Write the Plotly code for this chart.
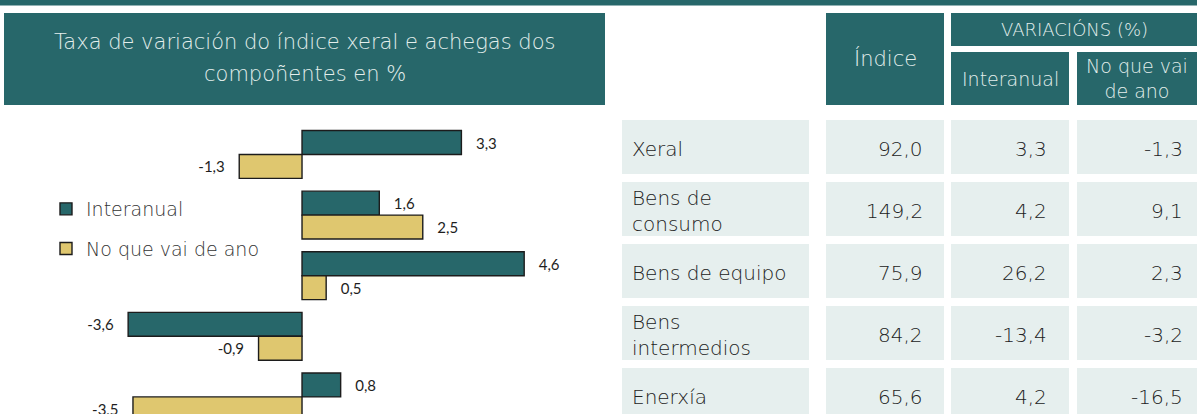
import plotly.graph_objects as go

# ---------------- data ----------------
categories = ["Xeral", "Bens de consumo", "Bens de equipo", "Bens intermedios", "Enerxía"]
series_names = ["Interanual", "No que vai de ano"]
contrib_interanual = [3.3, 1.6, 4.6, -3.6, 0.8]
contrib_ytd = [-1.3, 2.5, 0.5, -0.9, -3.5]

table_labels = ["Xeral", "Bens de<br>consumo", "Bens de equipo", "Bens<br>intermedios", "Enerxía"]
indice = [92.0, 149.2, 75.9, 84.2, 65.6]
var_interanual = [3.3, 4.2, 26.2, -13.4, 4.2]
var_ytd = [-1.3, 9.1, 2.3, -3.2, -16.5]

chart_title = ["Taxa de variación do índice xeral e achegas dos", "compoñentes en %"]
header_index = "Índice"
header_var = "VARIACIÓNS (%)"
header_cols = ["Interanual", "No que vai<br>de ano"]

# ---------------- style ----------------
W, H = 1197, 414
TEAL = "#27676A"
GOLD = "#DFC76F"
CELL = "#E6EFEE"
HEAD_TXT = "#E4EFED"
BODY_TXT = "#222222"
FONT = "DejaVu Sans"
WEIGHT = 300

def px(x):
    return x / W

def py(y):
    return 1 - y / H

def fmt(v):
    return f"{v:.1f}".replace(".", ",")

def bar_text(vals):
    pad = "\u00a0" * 3
    return [pad + fmt(v) if v >= 0 else fmt(v) + pad for v in vals]

fig = go.Figure()

# ---- bar chart ----
for name, vals, col in [(series_names[0], contrib_interanual, TEAL),
                        (series_names[1], contrib_ytd, GOLD)]:
    fig.add_trace(go.Bar(
        y=categories, x=vals, orientation="h", name=name,
        legendgroup=name,
        marker=dict(color=col, line=dict(color="#1c1c1c", width=1.4)),
        text=bar_text(vals), textposition="outside",
        textfont=dict(family="Lato", size=15, color="#1e1e1e"),
        cliponaxis=True, hoverinfo="skip",
        xaxis="x", yaxis="y",
    ))

# ---- table cells (bars in a table coordinate system) ----
col_left = [622, 826, 951, 1077]
col_right = [809, 944, 1069, 1205]
rows = list(range(len(categories)))
for c in range(4):
    fig.add_trace(go.Bar(
        y=rows, x=[col_right[c] - col_left[c]] * len(rows),
        base=[col_left[c]] * len(rows), orientation="h",
        width=0.87, offset=-0.435,
        marker=dict(color=CELL, line=dict(width=0)),
        showlegend=False, hoverinfo="skip",
        xaxis="x2", yaxis="y2",
    ))

annotations = []
num_right = [925, 1049, 1185]
for i in rows:
    annotations.append(dict(
        x=col_left[0] + 8, y=i + 0.03, xref="x2", yref="y2",
        text=table_labels[i], showarrow=False, xanchor="left", yanchor="middle",
        align="left", font=dict(family=FONT, size=20, color=BODY_TXT, weight=WEIGHT)))
    for c, vals in enumerate([indice, var_interanual, var_ytd]):
        annotations.append(dict(
            x=num_right[c], y=i + 0.03, xref="x2", yref="y2",
            text=fmt(vals[i]), showarrow=False, xanchor="right", yanchor="middle",
            font=dict(family=FONT, size=20, color=BODY_TXT, weight=WEIGHT)))

# ---- header boxes ----
shapes = []
def box(x0, x1, y0, y1):
    shapes.append(dict(type="rect", xref="paper", yref="paper",
                       x0=px(x0), x1=px(x1), y0=py(y1), y1=py(y0),
                       fillcolor=TEAL, line=dict(width=0), layer="below"))

box(0, W, 0, 5.5)
box(4, 605, 13, 105)
box(826, 944, 13, 105)
box(951, W, 13, 46)
box(951, 1069, 52, 105)
box(1077, W, 52, 105)

def head(x, y, text, size):
    annotations.append(dict(x=px(x), y=py(y), xref="paper", yref="paper",
                            text=text, showarrow=False, xanchor="center",
                            yanchor="middle",
                            font=dict(family=FONT, size=size, color=HEAD_TXT,
                                      weight=WEIGHT)))

head(304.5, 42, chart_title[0], 21)
head(304.5, 74, chart_title[1], 21)
head(885, 59, header_index, 21)
head(1074, 30, header_var, 18)
head(1010, 79, header_cols[0], 19)
head(1137, 79, header_cols[1], 19)

fig.update_layout(
    width=W, height=H,
    margin=dict(l=0, r=0, t=0, b=0, pad=0),
    paper_bgcolor="white", plot_bgcolor="rgba(0,0,0,0)",
    barmode="group", bargap=0.21, bargroupgap=0,
    separators=", ",
    showlegend=True,
    legend=dict(x=px(46), y=py(190), xanchor="left", yanchor="top",
                font=dict(family=FONT, size=19, color="#333333", weight=WEIGHT),
                bgcolor="rgba(0,0,0,0)", traceorder="grouped",
                tracegroupgap=12),
    xaxis=dict(domain=[0, px(605)], range=[-6.253, 6.273], visible=False,
               anchor="y", fixedrange=True),
    yaxis=dict(domain=[0, py(110)], range=[4.282, -0.734], visible=False,
               anchor="x", fixedrange=True),
    xaxis2=dict(domain=[0, 1], range=[0, W], visible=False, anchor="y2",
                fixedrange=True),
    yaxis2=dict(domain=[0, 1], range=[(H - 147) / 62, -147 / 62], visible=False,
                anchor="x2", fixedrange=True),
    shapes=shapes,
    annotations=annotations,
)

fig.write_html("out.html", config={"displayModeBar": False},
               post_script="document.body.style.margin='0';"
                           "document.body.style.overflow='hidden';")
